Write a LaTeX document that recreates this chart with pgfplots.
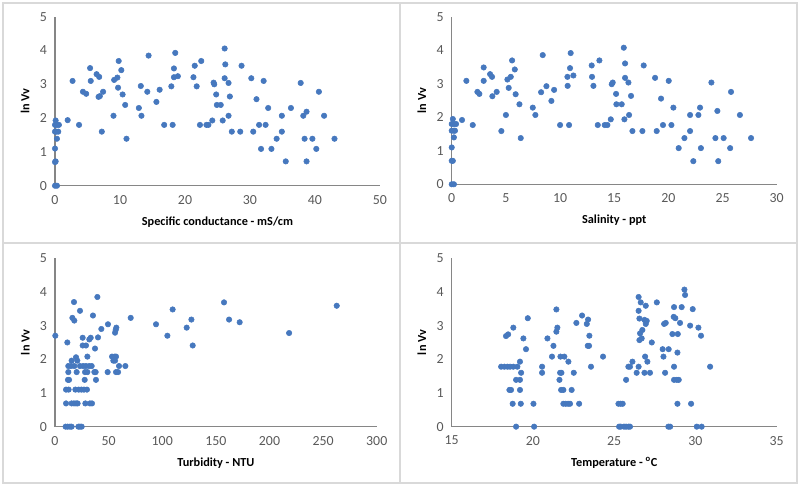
\documentclass[border=0pt]{standalone}
\usepackage{pgfplots}
\pgfplotsset{compat=1.18}
\usepackage{fontspec}
\setmainfont{Carlito}
\definecolor{dotblue}{RGB}{70,120,190}
\definecolor{axgray}{RGB}{134,134,134}
\definecolor{tickgray}{RGB}{89,89,89}
\definecolor{boxgray}{RGB}{217,217,217}
\pgfplotsset{
  panel/.style={
    scale only axis,
    axis lines*=left,
    axis line style={draw=axgray, line width=0.8pt},
    ymin=0, ymax=5, ytick={0,1,2,3,4,5},
    major tick style={draw=none},
    /pgf/number format/assume math mode=true,
    every tick label/.append style={font=\fontsize{10.4}{12}\selectfont, text=tickgray},
    yticklabel style={xshift=-2.5pt},
    xticklabel style={yshift=-3.5pt},
    ylabel={ln Vv},
    label style={font=\bfseries\fontsize{9.2}{11}\selectfont, text=black},
    y label style={at={(axis description cs:-0.092,0.5)}, anchor=center},
    x label style={at={(axis description cs:0.5,-0.215)}, anchor=center},
    clip=false,
    anchor=south west,
  },
  dots/.style={only marks, mark=*, mark size=2.05pt, color=dotblue, mark options={fill=dotblue, draw=dotblue}},
}
\begin{document}
\begin{tikzpicture}
\path[use as bounding box] (0,0) rectangle (600pt,366pt);
\draw[boxgray, line width=0.8pt] (2.25pt,3.75pt) rectangle (597.75pt,363.75pt);
\draw[boxgray, line width=0.8pt] (300pt,3.75pt) -- (300pt,363.75pt);
\draw[boxgray, line width=0.8pt] (2.25pt,183.75pt) -- (597.75pt,183.75pt);

% Panel 1
\begin{axis}[panel, at={(41.25pt,226.7pt)}, width=243.75pt, height=126.75pt,
  xmin=0, xmax=50, xtick={0,10,20,30,40,50},
  xlabel={Specific conductance - mS/cm}]
\addplot[dots] coordinates {
(0,0) (0.3,0) (0,0.7) (0.1,0.72) (0,1.1) (0,1.6) (0.2,1.6) (0.5,1.6) (0,1.8) (0.3,1.8) (0.6,1.8) (0.1,1.93) (0.3,1.39)
(1.95,1.94) (2.7,3.1) (3.7,1.8) (4.3,2.78) (4.8,2.72) (5.4,3.48) (5.5,3.1) (6.4,3.3) (6.8,3.22) (6.7,2.63) (6.9,2.65)
(7.4,2.78) (7.2,1.6) (9.0,2.07) (9.1,3.13) (9.6,3.2) (9.7,2.9) (9.8,3.69) (10.2,3.42) (10.4,2.7) (10.8,2.39) (11.0,1.39)
(12.9,2.3) (13.2,2.95) (13.3,2.07) (14.2,2.78) (14.4,3.85) (15.6,2.48) (16.1,2.84) (16.8,1.8) (17.9,2.94) (18.1,1.8)
(18.3,3.47) (18.3,3.21) (18.5,3.93) (18.9,3.24) (21.3,3.21) (21.5,3.55) (21.8,2.94) (22.3,1.8) (22.5,3.69) (23.3,1.8)
(23.6,1.8) (24.2,1.93) (24.4,3.05) (24.5,3.0) (24.8,2.7) (24.9,2.39) (25.5,2.39) (25.8,1.93) (26.1,4.06) (26.2,3.59)
(26.1,3.18) (26.7,3.04) (26.7,2.07) (26.9,2.64) (27.2,1.6) (28.7,3.55) (28.5,1.6) (30.2,3.18) (30.5,1.6) (31.0,2.56)
(31.4,1.8) (31.7,1.09) (32.1,3.1) (32.4,1.8) (32.8,2.3) (33.3,1.09) (34.1,1.39) (34.9,2.07) (34.9,1.6) (35.5,0.72)
(36.3,2.3) (37.8,3.04) (38.2,2.07) (38.4,1.39) (38.7,2.19) (38.7,0.72) (39.6,1.39) (40.2,1.09) (40.6,2.78) (41.4,2.07)
(43.0,1.39)
};
\end{axis}

% Panel 2
\begin{axis}[panel, at={(338.8pt,227.8pt)}, width=243.75pt, height=125.5pt,
  xmin=0, xmax=30, xtick={0,5,10,15,20,25,30},
  xlabel={Salinity - ppt}]
\addplot[dots] coordinates {
(0,0) (0.2,0) (0,0.7) (0.1,0.7) (0,1.1) (0,1.6) (0.2,1.6) (0.3,1.6) (0,1.8) (0.2,1.8) (0.4,1.8) (0.1,1.95) (0.2,1.4)
(0.95,1.92) (1.35,3.09) (1.94,1.77) (2.37,2.76) (2.55,2.7) (2.95,3.49) (2.95,3.09) (3.54,3.29) (3.72,3.21) (3.75,2.63)
(4.15,2.76) (4.58,1.59) (5.0,2.07) (5.14,3.13) (5.26,2.88) (5.45,3.21) (5.57,3.7) (5.82,3.43) (5.9,2.69) (6.25,2.39)
(6.37,1.38) (7.48,2.29) (7.72,2.07) (8.25,2.75) (8.4,3.86) (8.74,2.93) (9.2,2.49) (9.45,2.82) (10.0,1.77) (10.7,2.94)
(10.68,3.21) (10.83,1.77) (10.92,3.47) (10.98,3.92) (11.23,3.25) (12.92,3.55) (12.95,3.21) (13.08,2.94) (13.48,1.77)
(13.63,3.7) (14.12,1.77) (14.37,1.77) (14.68,1.94) (14.77,2.99) (14.86,3.04) (15.17,2.7) (15.2,2.39) (15.69,2.39)
(15.88,4.08) (15.94,1.94) (16.0,3.61) (16.0,3.18) (16.31,3.04) (16.37,2.07) (16.55,2.64) (16.68,1.59) (17.6,1.59)
(17.72,3.55) (18.77,3.18) (18.92,1.59) (19.32,2.56) (19.5,1.77) (20.03,3.09) (20.28,1.77) (20.46,2.29) (20.95,1.08)
(21.48,1.38) (22.0,1.59) (22.0,2.07) (22.3,0.69) (22.77,2.07) (22.92,2.29) (23.0,1.08) (23.97,3.04) (24.34,1.38)
(24.52,2.19) (24.6,0.69) (25.1,1.38) (25.7,1.08) (25.78,2.76) (26.6,2.07) (27.63,1.38)
};
\end{axis}

% Panel 3
\begin{axis}[panel, at={(41.25pt,46.0pt)}, width=241.3pt, height=126.3pt,
  xmin=0, xmax=300, xtick={0,50,100,150,200,250,300},
  xlabel={Turbidity - NTU}]
\addplot[dots] coordinates {
(0.3,2.7) (9.9,0) (11.8,0) (14.0,0) (15.5,0) (21.8,0) (23.3,0) (24.9,0)
(10.3,0.69) (15.5,0.69) (17.7,0.69) (19.6,0.69) (21.1,0.69) (28.3,0.69) (32.6,0.69) (34.5,0.69)
(10.3,1.1) (12.7,1.1) (19.0,1.1) (22.1,1.1) (24.6,1.1) (27.0,1.1) (29.8,1.1)
(12.1,1.39) (13.1,1.39) (27.7,1.39) (38.2,1.39)
(12.4,1.62) (20.2,1.62) (28.0,1.62) (30.2,1.62) (36.7,1.62) (37.9,1.62) (49.1,1.62) (56.9,1.62) (58.8,1.62)
(12.4,1.8) (14.9,1.8) (18.0,1.8) (23.3,1.8) (26.4,1.8) (28.9,1.8) (32.0,1.8) (34.2,1.8) (59.7,1.8) (65.6,1.8)
(15.5,1.96) (19.6,2.06) (20.8,1.96) (30.2,2.08) (53.2,2.08) (55.7,2.08) (56.9,2.08) (54.4,1.96) (56.0,1.96)
(11.5,2.5) (25.8,2.41) (28.9,2.41) (37.3,2.32) (25.8,2.64) (32.0,2.59) (33.3,2.64) (40.1,2.65) (43.2,2.9)
(49.4,3.04) (56.0,2.79) (56.6,2.87) (57.2,2.94) (16.2,3.23) (18.0,3.15) (23.3,3.44) (35.4,3.3) (17.7,3.7) (39.5,3.85)
(70.6,3.23) (94.2,3.04) (104.8,2.7) (109.7,3.48) (122.8,2.94) (127.2,3.18) (128.4,2.41) (157.6,3.69) (162.3,3.18)
(172.2,3.1) (218.3,2.78) (262.7,3.59)
};
\end{axis}

% Panel 4
\begin{axis}[panel, at={(338.8pt,46.0pt)}, width=243.75pt, height=126.3pt,
  xmin=15, xmax=35, xtick={15,20,25,30,35},
  xlabel={Temperature - \textsuperscript{o}C}]
\addplot[dots] coordinates {
(18.96,0) (20.07,0) (25.30,0) (25.40,0) (25.60,0) (25.73,0) (25.87,0) (25.97,0) (28.33,0) (28.44,0) (30.08,0) (30.38,0)
(18.75,0.68) (19.25,0.68) (20.03,0.68) (21.87,0.68) (22.02,0.68) (22.16,0.68) (22.28,0.68) (22.84,0.68) (25.26,0.68)
(25.40,0.68) (25.52,0.68) (28.89,0.68) (29.73,0.68)
(18.55,1.09) (18.65,1.09) (19.2,1.09) (21.73,1.09) (21.87,1.09) (22.38,1.09)
(18.96,1.39) (19.2,1.39) (21.63,1.39) (25.73,1.39) (28.68,1.39) (28.85,1.39) (28.97,1.39)
(19.27,1.6) (20.56,1.6) (21.67,1.6) (21.75,1.6) (22.51,1.6) (26.38,1.6) (26.86,1.6) (27.2,1.6) (28.13,1.6)
(18.04,1.78) (18.24,1.78) (18.43,1.78) (18.59,1.78) (18.79,1.78) (19.04,1.78) (20.56,1.78) (23.57,1.78) (25.87,1.78)
(25.97,1.78) (26.5,1.78) (28.68,1.78) (30.9,1.78)
(19.2,1.93) (22.18,1.93) (26.12,1.93) (27.04,1.93)
(21.17,2.08) (21.69,2.08) (21.93,2.08) (24.31,2.08) (26.9,2.08) (28.03,2.08) (28.89,2.2)
(19.57,2.3) (27.98,2.3) (28.35,2.3) (21.26,2.4) (23.37,2.4) (23.45,2.4) (27.31,2.5)
(19.41,2.62) (20.89,2.62) (26.55,2.57) (26.69,2.62) (18.34,2.69) (18.47,2.74) (23.47,2.7) (26.59,2.77)
(28.58,2.75) (28.91,2.75) (30.34,2.7) (26.73,2.87) (18.79,2.94) (21.44,2.82) (21.5,2.94) (30.18,2.94) (29.67,3.0)
(22.67,3.08) (23.31,3.05) (28.07,3.05) (28.17,3.08) (29.05,3.08) (26.94,3.05) (19.68,3.22) (23.39,3.18)
(26.55,3.21) (26.86,3.17) (27.0,3.14) (28.66,3.26) (28.76,3.22) (23.02,3.3) (21.44,3.48) (26.5,3.44) (29.83,3.49)
(26.94,3.59) (28.68,3.55) (29.15,3.55) (26.63,3.69) (27.62,3.69) (26.5,3.85) (29.36,3.91) (29.32,4.07)
};
\end{axis}
\end{tikzpicture}
\end{document}
